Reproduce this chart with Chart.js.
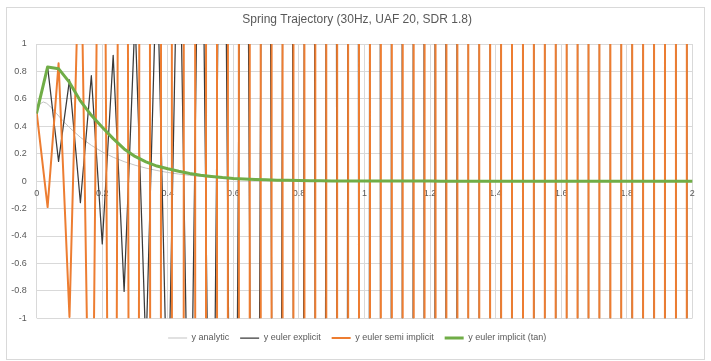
<!DOCTYPE html>
<html><head><meta charset="utf-8">
<script src="https://cdn.jsdelivr.net/npm/chart.js@4.4.1/dist/chart.umd.min.js"></script>
<style>html,body{margin:0;padding:0;background:#fff;} canvas{display:block;}</style>
</head><body>
<canvas id="c" width="711" height="361"></canvas>
<script>
const chartTitle = 'Spring Trajectory (30Hz, UAF 20, SDR 1.8)';
const seriesNames = ['y analytic', 'y euler explicit', 'y euler semi implicit', 'y euler implicit (tan)'];

// time samples (30 Hz)
const t = [0, 0.0333, 0.0667, 0.1, 0.1333, 0.1667, 0.2, 0.2333, 0.2667, 0.3, 0.3333, 0.3667, 0.4, 0.4333, 0.4667, 0.5, 0.5333, 0.5667, 0.6, 0.6333, 0.6667, 0.7, 0.7333, 0.7667, 0.8, 0.8333, 0.8667, 0.9, 0.9333, 0.9667, 1, 1.0333, 1.0667, 1.1, 1.1333, 1.1667, 1.2, 1.2333, 1.2667, 1.3, 1.3333, 1.3667, 1.4, 1.4333, 1.4667, 1.5, 1.5333, 1.5667, 1.6, 1.6333, 1.6667, 1.7, 1.7333, 1.7667, 1.8, 1.8333, 1.8667, 1.9, 1.9333, 1.9667, 2];

// analytic curve samples
const tAnalytic = [0, 0.01, 0.02, 0.03, 0.04, 0.05, 0.06, 0.08, 0.1, 0.1333, 0.1667, 0.2, 0.2333, 0.2667, 0.3, 0.3333, 0.3667, 0.4, 0.4333, 0.4667, 0.5, 0.5333, 0.5667, 0.6, 0.6333, 0.6667, 0.7, 0.7333, 0.7667, 0.8, 0.8333, 0.8667, 0.9, 0.9333, 0.9667, 1, 1.0333, 1.0667, 1.1, 1.1333, 1.1667, 1.2, 1.2333, 1.2667, 1.3, 1.3333, 1.3667, 1.4, 1.4333, 1.4667, 1.5, 1.5333, 1.5667, 1.6, 1.6333, 1.6667, 1.7, 1.7333, 1.7667, 1.8, 1.8333, 1.8667, 1.9, 1.9333, 1.9667, 2];
const yAnalytic = [0.5, 0.5629, 0.5775, 0.5681, 0.5475, 0.5218, 0.4945, 0.4406, 0.3909, 0.3196, 0.2611, 0.2133, 0.1742, 0.1423, 0.1163, 0.095, 0.0776, 0.0634, 0.0518, 0.0423, 0.0346, 0.0282, 0.0231, 0.0188, 0.0154, 0.0126, 0.0103, 0.0084, 0.0068, 0.0056, 0.0046, 0.0037, 0.003, 0.0025, 0.002, 0.0017, 0.0014, 0.0011, 0.0009, 0.0007, 0.0006, 0.0005, 0.0004, 0.0003, 0.0003, 0.0002, 0.0002, 0.0001, 0.0001, 0.0001, 0, 0, 0, 0, 0, 0, 0, 0, 0, 0, 0, 0, 0, 0, 0, 0];

const yExplicit = [0.5, 0.8333, 0.1444, 0.7385, -0.1574, 0.7686, -0.4578, 0.9176, -0.8045, 1.1987, -1.2483, 1.6447, -1.8507, 2.3119, -2.6931, 3.2864, -3.888, 4.6955, -5.5934, 6.7242, -8.0345, 9.6391, -11.533, 13.815, -16.547, 19.82, -23.74, 28.435, -34.059, 40.795, -48.864, 58.528, -70.103, 83.967, -100.58, 120.47, -144.29, 172.83, -207.01, 247.95, -296.99, 355.73, -426.08, 510.35, -611.28, 732.18, -876.99, 1050.4, -1258.2, 1507, -1805.1, 2162.1, -2589.7, 3101.9, -3715.4, 4450.2, -5330.3, 6384.5, -7647.2, 9159.6, -10971];

const ySemiImplicit = [0.5, -0.1889, 0.8595, -0.9903, 2.0395, -3.1086, 5.4804, -8.9799, 15.256, -25.454, 42.853, -71.823, 120.64, -202.43, 339.84, -570.4, 957.5, -1607, 2697, -4528, 7600, -12757, 21413, -35943, 60330, -101265, 169975, -285306, 478890, -803820, 1.3492e6, -2.2647e6, 3.8013e6, -6.3806e6, 1.071e7, -1.7977e7, 3.0174e7, -5.0648e7, 8.5013e7, -1.427e8, 2.3952e8, -4.0204e8, 6.7483e8, -1.1327e9, 1.9013e9, -3.1913e9, 5.3567e9, -8.9912e9, 1.5092e10, -2.5332e10, 4.252e10, -7.1371e10, 1.198e11, -2.0108e11, 3.3752e11, -5.6653e11, 9.5093e11, -1.5962e12, 2.6792e12, -4.497e12, 7.5483e12];

const yImplicit = [0.5, 0.833, 0.82, 0.72, 0.585, 0.48, 0.393, 0.31, 0.235, 0.18, 0.14, 0.11, 0.09, 0.072, 0.056, 0.043, 0.034, 0.026, 0.02, 0.016, 0.012, 0.0095, 0.0073, 0.0057, 0.0044, 0.0034, 0.0026, 0.002, 0.0016, 0.0012, 0.0009, 0.0007, 0.0005, 0.0004, 0.0003, 0.0002, 0.0002, 0.0001, 0.0001, 0.0001, 0, 0, 0, 0, 0, 0, 0, 0, 0, 0, 0, 0, 0, 0, 0, 0, 0, 0, 0, 0, 0];

const xTickLabels = ['0', '0.2', '0.4', '0.6', '0.8', '1', '1.2', '1.4', '1.6', '1.8', '2'];
const yTickLabels = ['-1', '-0.8', '-0.6', '-0.4', '-0.2', '0', '0.2', '0.4', '0.6', '0.8', '1'];

const FONT = "'Liberation Sans', Arial, sans-serif";
const TXT = '#595959';
const GRID = '#D9D9D9';

const toXY = (xs, ys) => xs.map((x, i) => ({x: x, y: ys[i]}));

const frame = {
  id: 'frame',
  afterLayout(c) {
    // let the y tick labels use the space left of the axis box
    const s = c.scales.y;
    s.left = 0;
    s.width = s.right;
  },
  beforeDraw(c) {
    const g = c.ctx;
    g.save();
    g.fillStyle = '#ffffff';
    g.fillRect(0, 0, c.width, c.height);
    g.strokeStyle = '#D9D9D9';
    g.lineWidth = 1;
    g.strokeRect(6.5, 7.5, 698, 352);
    g.restore();
  }
};

new Chart(document.getElementById('c').getContext('2d'), {
  type: 'line',
  data: {
    datasets: [
      {label: seriesNames[0], data: toXY(tAnalytic, yAnalytic), borderColor: '#C3C3C3', backgroundColor: '#C3C3C3', borderWidth: 1, order: 4, clip: 0},
      {label: seriesNames[1], data: toXY(t, yExplicit), borderColor: '#3A3A3A', backgroundColor: '#3A3A3A', borderWidth: 1.25, order: 3, clip: 0},
      {label: seriesNames[2], data: toXY(t, ySemiImplicit), borderColor: '#ED7D31', backgroundColor: '#ED7D31', borderWidth: 2, order: 2, clip: 0},
      {label: seriesNames[3], data: toXY(t, yImplicit), borderColor: '#70AD47', backgroundColor: '#70AD47', borderWidth: 3, order: 1, clip: 0}
    ]
  },
  options: {
    responsive: false,
    animation: false,
    devicePixelRatio: 1,
    elements: {
      point: {radius: 0, hoverRadius: 0},
      line: {tension: 0, borderJoinStyle: 'round', borderCapStyle: 'round', fill: false}
    },
    layout: {padding: {left: 22, right: 18.7, top: 0, bottom: 8.5}},
    scales: {
      x: {
        type: 'linear', min: 0, max: 2,
        position: {y: 0},
        ticks: {stepSize: 0.2, autoSkip: false, maxRotation: 0, color: TXT, font: {family: FONT, size: 9}, padding: 7,
          callback: (v, i) => xTickLabels[i]},
        grid: {color: GRID, drawTicks: false},
        border: {color: GRID}
      },
      y: {
        type: 'linear', min: -1, max: 1,
        ticks: {stepSize: 0.2, color: TXT, font: {family: FONT, size: 9}, padding: 10,
          callback: (v, i) => yTickLabels[i]},
        grid: {color: GRID, drawTicks: false},
        border: {display: false},
        afterFit: (s) => { s.width = 14.7; }
      }
    },
    plugins: {
      title: {display: true, text: chartTitle, color: TXT, font: {family: FONT, size: 12, weight: 'normal'}, padding: {top: 12, bottom: 17.6}},
      legend: {
        position: 'bottom',
        title: {display: true, text: '', font: {size: 1}, padding: {top: 3, bottom: 0}},
        labels: {usePointStyle: true, pointStyle: 'line', pointStyleWidth: 19, boxHeight: 9, color: TXT,
          font: {family: FONT, size: 9}, padding: 11,
          sort: (a, b) => a.datasetIndex - b.datasetIndex}
      },
      tooltip: {enabled: false}
    }
  },
  plugins: [frame]
});
</script>
</body></html>
